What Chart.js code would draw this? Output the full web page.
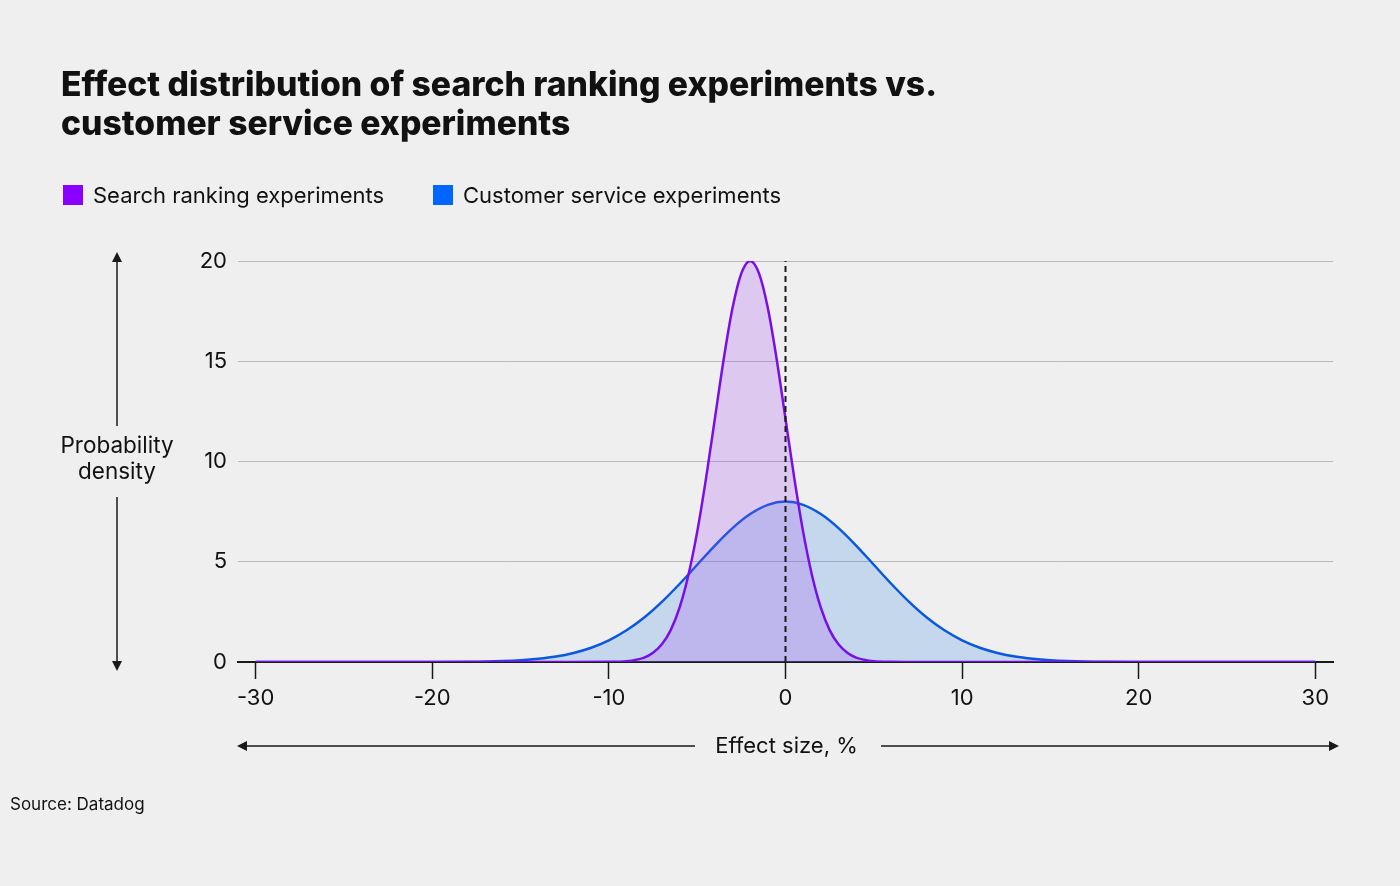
<!DOCTYPE html>
<html>
<head>
<meta charset="utf-8">
<script src="https://cdn.jsdelivr.net/npm/chart.js@4.4.1/dist/chart.umd.min.js"></script>
<style>
    html, body { margin: 0; padding: 0; background: #efefef; }
    #wrap { width: 1400px; height: 886px; }
</style>
</head>
<body>
<div id="wrap"><canvas id="effectChart" width="1400" height="886"></canvas></div>
<script>
// Effect distribution: search ranking vs customer service experiments

const TITLE_LINES = [
    'Effect distribution of search ranking experiments vs.',
    'customer service experiments'
];
const SERIES_NAMES = ['Search ranking experiments', 'Customer service experiments'];
const X_LABEL = 'Effect size, %';
const Y_LABEL = ['Probability', 'density'];
const SOURCE = 'Source: Datadog';

const X_TICKS = [-30, -20, -10, 0, 10, 20, 30];
const Y_TICKS = [0, 5, 10, 15, 20];

// Search ranking experiments
const searchX = [-30, -20, -12, -10, -9, -8, -7.5, -7, -6.5, -6, -5.5, -5, -4.5, -4, -3.5, -3, -2.5, -2,
    -1.5, -1, -0.5, 0, 0.5, 1, 1.5, 2, 2.5, 3, 3.5, 4, 5, 6, 8, 10, 20, 30];
const searchY = [0, 0, 0, 0.01, 0.04, 0.22, 0.46, 0.88, 1.59, 2.71, 4.33, 6.49, 9.16, 12.13, 15.1, 17.65, 19.38, 20,
    19.38, 17.65, 15.1, 12.13, 9.16, 6.49, 4.33, 2.71, 1.59, 0.88, 0.46, 0.22, 0.04, 0.01, 0, 0, 0, 0];

// Customer service experiments
const serviceX = [-30, -25, -20, -18, -16, -15, -14, -13, -12, -11, -10, -9, -8, -7, -6, -5, -4, -3, -2, -1, 0,
    1, 2, 3, 4, 5, 6, 7, 8, 9, 10, 11, 12, 13, 14, 15, 16, 18, 20, 25, 30];
const serviceY = [0, 0, 0, 0.01, 0.05, 0.09, 0.16, 0.27, 0.45, 0.71, 1.08, 1.58, 2.22, 3.0, 3.89, 4.85, 5.81, 6.68, 7.38, 7.84, 8,
    7.84, 7.38, 6.68, 5.81, 4.85, 3.89, 3.0, 2.22, 1.58, 1.08, 0.71, 0.45, 0.27, 0.16, 0.09, 0.05, 0.01, 0, 0, 0];

// Zero reference line
const zeroLineX = [0, 0];
const zeroLineY = [0, 20];

const COLORS = {
    purple: '#7a0ee8',
    purpleKey: '#8a00ff',
    purpleFill: 'rgba(160, 70, 240, 0.22)',
    blue: '#0a58e0',
    blueKey: '#0066ff',
    blueFill: 'rgba(30, 120, 230, 0.2)',
    text: '#111111',
    grid: '#b9b9b9',
    axis: '#1a1a1a'
};

const BODY_FONT = 'Inter, "Noto Sans", sans-serif';

function toPoints(xs, ys) {
    return xs.map((x, i) => ({ x: x, y: ys[i] }));
}

function arrowHead(ctx, x, y, dir) {
    // dir: 'up' | 'down' | 'left' | 'right'
    const len = 10, half = 5;
    ctx.beginPath();
    if (dir === 'up') { ctx.moveTo(x, y); ctx.lineTo(x - half, y + len); ctx.lineTo(x + half, y + len); }
    if (dir === 'down') { ctx.moveTo(x, y); ctx.lineTo(x - half, y - len); ctx.lineTo(x + half, y - len); }
    if (dir === 'left') { ctx.moveTo(x, y); ctx.lineTo(x + len, y - half); ctx.lineTo(x + len, y + half); }
    if (dir === 'right') { ctx.moveTo(x, y); ctx.lineTo(x - len, y - half); ctx.lineTo(x - len, y + half); }
    ctx.closePath();
    ctx.fill();
}

const decorPlugin = {
    id: 'decor',
    afterDraw(chart) {
        const ctx = chart.ctx;
        const area = chart.chartArea;
        const xScale = chart.scales.x;
        ctx.save();
        ctx.fillStyle = COLORS.text;
        ctx.strokeStyle = COLORS.axis;
        ctx.textBaseline = 'alphabetic';

        // Title
        ctx.font = '800 33.7px Inter, "Noto Sans", sans-serif';
        ctx.textAlign = 'left';
        TITLE_LINES.forEach((line, i) => ctx.fillText(line, 61, 96 + i * 39));

        // Legend
        ctx.font = '22px ' + BODY_FONT;
        ctx.textBaseline = 'middle';
        const keys = [
            { x: 63, color: COLORS.purpleKey, label: SERIES_NAMES[0] },
            { x: 433, color: COLORS.blueKey, label: SERIES_NAMES[1] }
        ];
        keys.forEach(k => {
            ctx.fillStyle = k.color;
            ctx.fillRect(k.x, 185, 20, 20);
            ctx.fillStyle = COLORS.text;
            ctx.fillText(k.label, k.x + 30, 196);
        });

        // Y axis label with arrows
        const yl = 117;
        ctx.textAlign = 'center';
        ctx.font = '22.5px ' + BODY_FONT;
        ctx.fillText(Y_LABEL[0], yl, 446);
        ctx.fillText(Y_LABEL[1], yl, 472);
        ctx.lineWidth = 1.5;
        ctx.beginPath();
        ctx.moveTo(yl, area.top); ctx.lineTo(yl, 426);
        ctx.moveTo(yl, 497); ctx.lineTo(yl, area.bottom);
        ctx.stroke();
        ctx.fillStyle = COLORS.axis;
        arrowHead(ctx, yl, area.top - 9, 'up');
        arrowHead(ctx, yl, area.bottom + 9, 'down');

        // X axis label with arrows
        const xc = xScale.getPixelForValue(0);
        const xy = 746;
        ctx.font = '22px ' + BODY_FONT;
        ctx.fillStyle = COLORS.text;
        ctx.fillText(X_LABEL, xc + 1, xy);
        ctx.beginPath();
        ctx.moveTo(240, xy); ctx.lineTo(695, xy);
        ctx.moveTo(881, xy); ctx.lineTo(1336, xy);
        ctx.stroke();
        ctx.fillStyle = COLORS.axis;
        arrowHead(ctx, 237, xy, 'left');
        arrowHead(ctx, 1339, xy, 'right');

        // Source
        ctx.fillStyle = COLORS.text;
        ctx.textAlign = 'left';
        ctx.font = '17px ' + BODY_FONT;
        ctx.fillText(SOURCE, 10, 805);
        ctx.restore();
    }
};

new Chart(document.getElementById('effectChart').getContext('2d'), {
    type: 'line',
    data: {
        datasets: [
            {
                label: 'zero',
                data: toPoints(zeroLineX, zeroLineY),
                borderColor: '#1a1a1a',
                borderWidth: 2,
                borderDash: [6, 4],
                pointRadius: 0,
                fill: false,
                order: 0
            },
            {
                label: SERIES_NAMES[0],
                data: toPoints(searchX, searchY),
                borderColor: COLORS.purple,
                backgroundColor: COLORS.purpleFill,
                borderWidth: 2.5,
                pointRadius: 0,
                cubicInterpolationMode: 'monotone',
                fill: 'origin',
                order: 1
            },
            {
                label: SERIES_NAMES[1],
                data: toPoints(serviceX, serviceY),
                borderColor: COLORS.blue,
                backgroundColor: COLORS.blueFill,
                borderWidth: 2.5,
                pointRadius: 0,
                cubicInterpolationMode: 'monotone',
                fill: 'origin',
                order: 2
            }
        ]
    },
    options: {
        responsive: false,
        animation: false,
        layout: {
            padding: { left: 0, right: 67, top: 261, bottom: 164 }
        },
        plugins: {
            legend: { display: false },
            title: { display: false },
            tooltip: { enabled: false }
        },
        scales: {
            x: {
                type: 'linear',
                min: -31,
                max: 31,
                afterBuildTicks: axis => { axis.ticks = X_TICKS.map(v => ({ value: v })); },
                afterFit: axis => { axis.height = 60; },
                border: { display: true, color: COLORS.axis, width: 2 },
                grid: {
                    drawOnChartArea: false,
                    drawTicks: true,
                    tickLength: 17,
                    tickColor: COLORS.axis,
                    tickWidth: 1.5
                },
                ticks: {
                    color: COLORS.text,
                    padding: 6,
                    maxRotation: 0,
                    font: { family: BODY_FONT, size: 22 }
                }
            },
            y: {
                min: 0,
                max: 20,
                afterBuildTicks: axis => { axis.ticks = Y_TICKS.map(v => ({ value: v })); },
                afterFit: axis => { axis.width = 238; },
                border: { display: false },
                grid: {
                    color: ctx => (ctx.tick && ctx.tick.value === 0 ? 'rgba(0,0,0,0)' : COLORS.grid),
                    lineWidth: 1,
                    drawTicks: false
                },
                ticks: {
                    color: COLORS.text,
                    padding: 11,
                    font: { family: BODY_FONT, size: 22 }
                }
            }
        }
    },
    plugins: [decorPlugin]
});
</script>
</body>
</html>
